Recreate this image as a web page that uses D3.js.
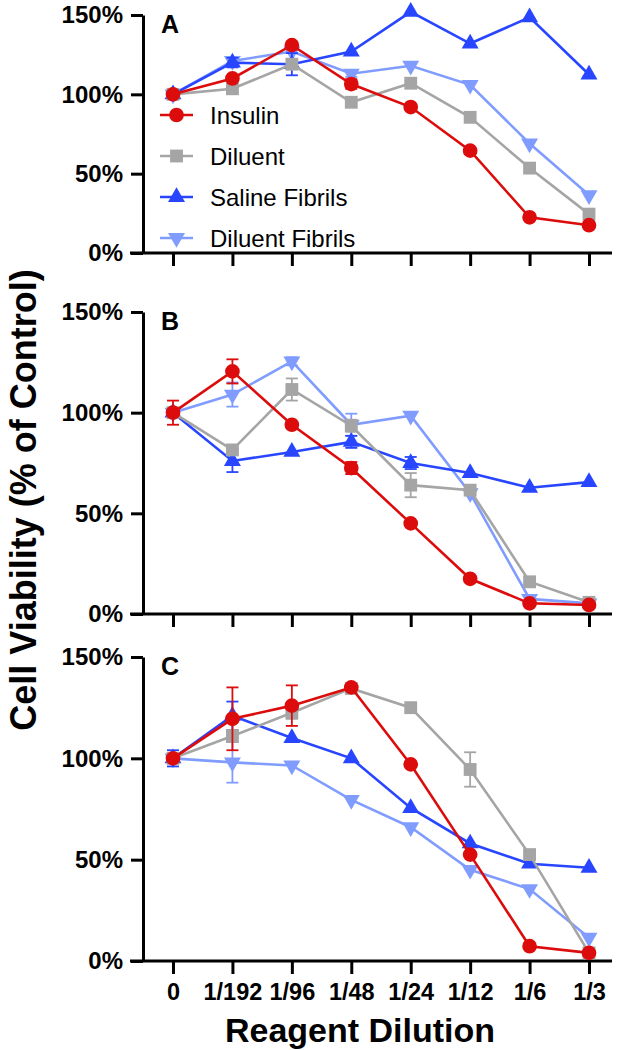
<!DOCTYPE html>
<html><head><meta charset="utf-8">
<script src="https://cdn.jsdelivr.net/npm/d3@7"></script>
<style>
html,body{margin:0;padding:0;background:#fff;}
svg{display:block;}
text{font-family:"Liberation Sans",Arial,Helvetica,sans-serif;}
</style></head>
<body>
<svg id="chart" width="624" height="1050"></svg>
<script>
// ---------- data ----------
const categories = ["0","1/192","1/96","1/48","1/24","1/12","1/6","1/3"];
const seriesNames = ["Insulin","Diluent","Saline Fibrils","Diluent Fibrils"];
const seriesColors = ["#dc0c0c","#a5a5a5","#2846ff","#809cff"];
const yTicks = [0,50,100,150];
const panelLabels = ["A","B","C"];

// Panel A
const insulinA   = [100,110,131,106.5,92,64.5,22.5,17.5];
const diluentA   = [100,103.5,119,95,107,85.5,53.5,24.5];
const salineA    = [100,120,119,127,152,132,148.5,112.5];
const dilFibA    = [100,121,127,113,118,106,69,36.5];
const insulinErrA= [0,0,0,3,0,0,0,0];
const diluentErrA= [0,2,0,0,0,0,0,0];
const salineErrA = [0,3,7,0,0,0,0,0];
const dilFibErrA = [0,0,0,2,0,0,0,0];

// Panel B
const insulinB   = [100,120.5,94,72.5,45,17.5,5.3,4.5];
const diluentB   = [100,81.5,111.5,93.5,64,61.5,16,5.8];
const salineB    = [100,76,80.5,85.5,75,70,62.7,65.5];
const dilFibB    = [100,109,125.5,94,98.5,60,7.5,5.3];
const insulinErrB= [6,6,0,3,0,0,0,0];
const diluentErrB= [0,0,5.5,3,6,0,0,0];
const salineErrB = [0,5.5,0,3,3,0,0,0];
const dilFibErrB = [0,6,2,5.5,0,0,0,0];

// Panel C
const insulinC   = [100,119.5,126,135,97,52.5,7.3,4];
const diluentC   = [100,111,122.5,134.5,125,94.5,52.5,4];
const salineC    = [100,121,110,100,75.5,58,48,46];
const dilFibC    = [100,98,96.5,79.5,66,45,35.5,11.5];
const insulinErrC= [0,15.5,10,0,0,0,0,0];
const diluentErrC= [0,3,3,0,0,8.5,0,0];
const salineErrC = [4,7,0,0,0,0,0,0];
const dilFibErrC = [0,10,0,0,0,0,0,0];

// ---------- layout ----------
const axisX = 143;
const xAxisEnd = 612;
const xFirst = 173, xLast = 589;
const panelsGeom = [
  {y0:253, y150:15},
  {y0:614, y150:312},
  {y0:961, y150:657}
];
const panels = [
  {label:"A", values:[insulinA,diluentA,salineA,dilFibA], errs:[insulinErrA,diluentErrA,salineErrA,dilFibErrA]},
  {label:"B", values:[insulinB,diluentB,salineB,dilFibB], errs:[insulinErrB,diluentErrB,salineErrB,dilFibErrB]},
  {label:"C", values:[insulinC,diluentC,salineC,dilFibC], errs:[insulinErrC,diluentErrC,salineErrC,dilFibErrC]}
];

const svg = d3.select("#chart");
const x = d3.scalePoint().domain(categories).range([xFirst, xLast]);

const symbolTypes = [d3.symbolCircle, d3.symbolSquare, d3.symbolTriangle, d3.symbolTriangle];
const symbolSizes = [170, 165, 125, 125];
const symbolRot = [0,0,0,180];

function symPath(i){ return d3.symbol().type(symbolTypes[i]).size(symbolSizes[i])(); }

panels.forEach((p, pi) => {
  const g = panelsGeom[pi];
  const y = d3.scaleLinear().domain([0,150]).range([g.y0, g.y150]);
  const pg = svg.append("g");

  // y axis
  const ya = d3.axisLeft(y).tickValues(yTicks).tickFormat(d => d + "%").tickSize(12).tickSizeOuter(0).tickPadding(8);
  const yg = pg.append("g").attr("transform", `translate(${axisX},0)`).call(ya);
  yg.select(".domain").attr("stroke","#000").attr("stroke-width",3);
  yg.selectAll(".tick line").attr("stroke","#000").attr("stroke-width",3);
  yg.selectAll(".tick text").attr("font-size",24).attr("font-weight","bold").attr("fill","#000");

  // x axis
  const xa = d3.axisBottom(x).tickSize(13).tickSizeOuter(0).tickPadding(9)
     .tickFormat(pi === 2 ? (d => d) : (() => ""));
  const xg = pg.append("g").attr("transform", `translate(0,${g.y0})`).call(xa);
  xg.select(".domain").remove();
  xg.selectAll(".tick line").attr("stroke","#000").attr("stroke-width",3);
  xg.selectAll(".tick text").attr("font-size",23.5).attr("font-weight","bold").attr("fill","#000");
  pg.append("line").attr("x1", axisX - 13).attr("x2", xAxisEnd)
    .attr("y1", g.y0).attr("y2", g.y0).attr("stroke","#000").attr("stroke-width",3);

  // panel letter
  pg.append("text").attr("x", 161).attr("y", g.y150 + 18)
    .attr("font-size",25).attr("font-weight","bold").text(p.label);

  // series (draw in reverse so Insulin on top)
  const order = [3,2,1,0];
  order.forEach(si => {
    const vals = p.values[si], errs = p.errs[si], col = seriesColors[si];
    const sg = pg.append("g");
    const line = d3.line().x((d,i) => x(categories[i])).y(d => y(d));
    sg.append("path").attr("d", line(vals)).attr("fill","none")
      .attr("stroke", col).attr("stroke-width", 2.6);
    // error bars
    vals.forEach((v,i) => {
      const e = errs[i];
      if (!e) return;
      const cx = x(categories[i]);
      sg.append("line").attr("x1",cx).attr("x2",cx).attr("y1",y(v-e)).attr("y2",y(v+e))
        .attr("stroke",col).attr("stroke-width",1.8);
      [v-e, v+e].forEach(ev => {
        sg.append("line").attr("x1",cx-6).attr("x2",cx+6).attr("y1",y(ev)).attr("y2",y(ev))
          .attr("stroke",col).attr("stroke-width",1.8);
      });
    });
    sg.selectAll("path.mk").data(vals).enter().append("path").attr("class","mk")
      .attr("d", symPath(si))
      .attr("transform", (d,i) => `translate(${x(categories[i])},${y(d)}) rotate(${symbolRot[si]})`)
      .attr("fill", col);
  });
});

// legend in panel A
const legY0 = 115, legStep = 41;
seriesNames.forEach((name, i) => {
  const lg = svg.append("g").attr("transform", `translate(0,${legY0 + i*legStep})`);
  lg.append("line").attr("x1",160).attr("x2",193).attr("y1",0).attr("y2",0)
    .attr("stroke",seriesColors[i]).attr("stroke-width",2.6);
  lg.append("path").attr("d", symPath(i))
    .attr("transform", `translate(176.5,0) rotate(${symbolRot[i]})`).attr("fill",seriesColors[i]);
  lg.append("text").attr("x",210).attr("y",8.5).attr("font-size",24).attr("fill","#000").text(name);
});

// axis titles
svg.append("text").attr("x",360).attr("y",1042).attr("text-anchor","middle")
  .attr("font-size",34).attr("font-weight","bold").text("Reagent Dilution");
svg.append("text").attr("transform","translate(36,500) rotate(-90)").attr("text-anchor","middle")
  .attr("font-size",36).attr("font-weight","bold").text("Cell Viability (% of Control)");
</script>
</body></html>
